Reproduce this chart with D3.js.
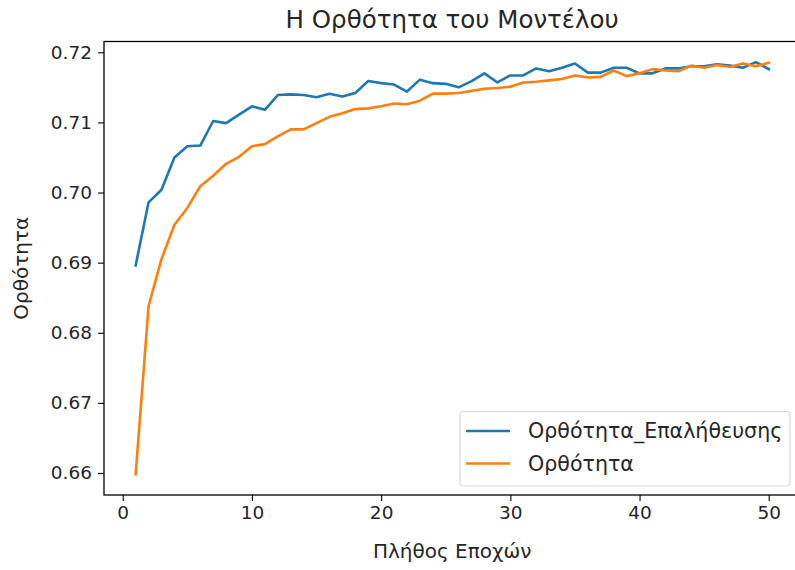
<!DOCTYPE html>
<html>
<head>
<meta charset="utf-8">
<script src="https://cdn.jsdelivr.net/npm/d3@7"></script>
<style>
  body { margin: 0; background: #fff; }
  svg { display: block; font-family: "DejaVu Sans", sans-serif; }
</style>
</head>
<body>
<svg id="chart" width="795" height="570"></svg>
<script>
// epochs on the x axis
var epochs = [1, 2, 3, 4, 5, 6, 7, 8, 9, 10, 11, 12, 13, 14, 15, 16, 17, 18, 19, 20,
  21, 22, 23, 24, 25, 26, 27, 28, 29, 30, 31, 32, 33, 34, 35, 36, 37, 38, 39, 40,
  41, 42, 43, 44, 45, 46, 47, 48, 49, 50];

// validation accuracy (blue)
var valAcc = [0.6896, 0.6986, 0.7004, 0.7050, 0.7066, 0.7067, 0.7102, 0.7099, 0.7111, 0.7123,
  0.7118, 0.7139, 0.7140, 0.7139, 0.7136, 0.7141, 0.7137, 0.7142, 0.7159, 0.7156,
  0.7154, 0.7144, 0.7161, 0.7156, 0.7155, 0.7150, 0.7159, 0.7170, 0.7157, 0.7167,
  0.7167, 0.7177, 0.7173, 0.7178, 0.7184, 0.7171, 0.7171, 0.7178, 0.7178, 0.7170,
  0.7170, 0.7177, 0.7177, 0.7180, 0.7180, 0.7183, 0.7181, 0.7178, 0.7186, 0.7176];

// training accuracy (orange)
var trainAcc = [0.6598, 0.6838, 0.6905, 0.6954, 0.6978, 0.7009, 0.7024, 0.7041, 0.7051, 0.7066,
  0.7069, 0.7080, 0.7090, 0.7090, 0.7099, 0.7108, 0.7113, 0.7119, 0.7120, 0.7123,
  0.7127, 0.7126, 0.7131, 0.7141, 0.7141, 0.7142, 0.7145, 0.7148, 0.7149, 0.7151,
  0.7157, 0.7158, 0.7160, 0.7162, 0.7167, 0.7164, 0.7165, 0.7174, 0.7166, 0.7170,
  0.7176, 0.7174, 0.7173, 0.7181, 0.7178, 0.7182, 0.7179, 0.7184, 0.7180, 0.7185];

var seriesNames = ["Ορθότητα_Επαλήθευσης", "Ορθότητα"];
var seriesColors = ["#1f77b4", "#ff7f0e"];
var xTicks = [0, 10, 20, 30, 40, 50];
var yTicks = [0.66, 0.67, 0.68, 0.69, 0.70, 0.71, 0.72];

var titleText = "Η Ορθότητα του Μοντέλου";
var xLabel = "Πλήθος Εποχών";
var yLabel = "Ορθότητα";

// plot box (the right spine falls just outside the picture, like the original crop)
var boxL = 104, boxR = 800.4, boxT = 41.5, boxB = 495;
var textColor = "#262626";

var svg = d3.select("#chart");

//matplotlib-like 5% margins on both axes
function pad(ext) {
  var d = (ext[1] - ext[0]) * 0.05;
  return [ext[0] - d, ext[1] + d];
}

var x = d3.scaleLinear()
  .domain(pad(d3.extent(epochs)))
  .range([boxL, boxR]);

var allVals = valAcc.concat(trainAcc);
var y = d3.scaleLinear()
  .domain(pad(d3.extent(allVals)))
  .range([boxB, boxT]);

// axes
var xAxis = svg.append("g")
  .attr("transform", "translate(0," + boxB + ")")
  .call(d3.axisBottom(x).tickValues(xTicks).tickFormat(d3.format("d")).tickSize(6).tickPadding(5));

var yAxis = svg.append("g")
  .attr("transform", "translate(" + boxL + ",0)")
  .call(d3.axisLeft(y).tickValues(yTicks).tickFormat(d3.format(".2f")).tickSize(6).tickPadding(6));

[xAxis, yAxis].forEach(function(g) {
  g.select(".domain").remove();
  g.selectAll(".tick line").attr("stroke", "#000").attr("stroke-width", 1.1);
  g.selectAll(".tick text")
    .attr("fill", textColor)
    .style("font-size", "18.5px")
    .style("font-family", "DejaVu Sans");
});

// frame
svg.append("rect")
  .attr("x", boxL)
  .attr("y", boxT)
  .attr("width", boxR - boxL)
  .attr("height", boxB - boxT)
  .attr("fill", "none")
  .attr("stroke", "#000")
  .attr("stroke-width", 1.3);

// lines
var line = d3.line()
  .x(function(d, i) { return x(epochs[i]); })
  .y(function(d) { return y(d); });

[valAcc, trainAcc].forEach(function(s, k) {
  svg.append("path")
    .datum(s)
    .attr("d", line)
    .attr("fill", "none")
    .attr("stroke", seriesColors[k])
    .attr("stroke-width", 2.6)
    .attr("stroke-linejoin", "round")
    .attr("stroke-linecap", "square");
});

// title and axis labels
svg.append("text")
  .attr("x", (boxL + boxR) / 2)
  .attr("y", 28)
  .attr("text-anchor", "middle")
  .attr("fill", textColor)
  .style("font-size", "24.5px")
  .text(titleText);

svg.append("text")
  .attr("x", (boxL + boxR) / 2)
  .attr("y", 558)
  .attr("text-anchor", "middle")
  .attr("fill", textColor)
  .style("font-size", "20px")
  .text(xLabel);

svg.append("text")
  .attr("transform", "translate(28," + ((boxT + boxB) / 2) + ") rotate(-90)")
  .attr("text-anchor", "middle")
  .attr("fill", textColor)
  .style("font-size", "20px")
  .text(yLabel);

// legend
var legend = svg.append("g");
legend.append("rect")
  .attr("x", 460)
  .attr("y", 411.5)
  .attr("width", 330)
  .attr("height", 74.5)
  .attr("rx", 3.5)
  .attr("fill", "#fff")
  .attr("fill-opacity", 0.8)
  .attr("stroke", "#d9d9d9")
  .attr("stroke-width", 1.2);

seriesNames.forEach(function(name, k) {
  var cy = 431 + k * 32.5;
  legend.append("line")
    .attr("x1", 466).attr("x2", 510)
    .attr("y1", cy).attr("y2", cy)
    .attr("stroke", seriesColors[k])
    .attr("stroke-width", 2.6);
  legend.append("text")
    .attr("x", 528)
    .attr("y", cy)
    .attr("dy", "0.35em")
    .attr("fill", textColor)
    .style("font-size", "20.6px")
    .text(name);
});
</script>
</body>
</html>
